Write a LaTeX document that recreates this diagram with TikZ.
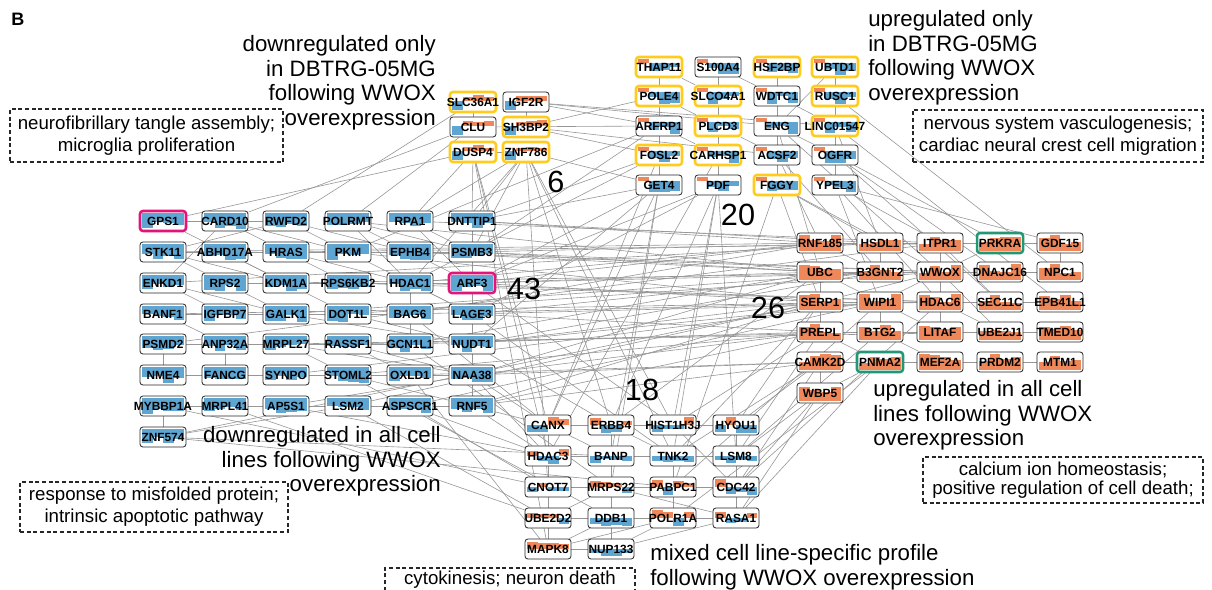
\documentclass[tikz,border=0pt]{standalone}
\usepackage{fontspec}
\setmainfont{Liberation Sans}
\pgfdeclarelayer{background}
\pgfsetlayers{background,main}
\definecolor{bblue}{RGB}{95,165,210}
\definecolor{borange}{RGB}{238,135,90}
\definecolor{gold}{RGB}{255,204,30}
\definecolor{mag}{RGB}{226,20,122}
\definecolor{grn}{RGB}{35,150,115}
\definecolor{edgec}{RGB}{150,150,150}
\tikzset{
 gbox/.style={draw=black!85, line width=0.6pt, rounded corners=2.2pt, minimum width=34.5pt, minimum height=15pt, inner sep=0pt},
 ylw/.style={draw=gold, line width=1.9pt},
 mgt/.style={draw=mag, line width=1.9pt},
 gre/.style={draw=grn, line width=1.9pt},
 glab/.style={font=\fontsize{8.9}{10}\selectfont\bfseries, inner sep=0pt},
 edge/.style={draw=edgec, line width=0.45pt},
 big/.style={font=\fontsize{16.7}{18.5}\selectfont, inner sep=0pt},
 num/.style={font=\fontsize{23}{26}\selectfont, inner sep=0pt},
 dbox/.style={draw=black!85, line width=0.8pt, dash pattern=on 3pt off 2pt},
 small/.style={font=\fontsize{14}{16.5}\selectfont, align=center, inner sep=0pt},
}
\def\gvalD{\pgfmathsetmacro\gv{-(0.5+0.5*rnd)}}
\def\gvalU{\pgfmathsetmacro\gv{0.4+0.6*rnd}}
\def\gvalM{\pgfmathsetmacro\gs{rnd<0.5 ? -1 : 1}\pgfmathsetmacro\gv{\gs*(0.4+0.6*rnd)}}
\def\gvalT{\ifnum\gi=0 \pgfmathsetmacro\gv{0.9}\else\pgfmathsetmacro\gv{-(0.3+0.7*rnd)}\fi}
\def\gvalS{\ifnum\gi=0 \pgfmathsetmacro\gv{-0.9}\else\pgfmathsetmacro\gv{0.3+0.5*rnd}\fi}
\def\gfrD{0.1}\def\gfrU{0.9}\def\gfrM{0.5}\def\gfrT{0.3}\def\gfrS{0.45}
\newcommand\gene[5]{%
  \fill[white, rounded corners=2.2pt] (#2-23,#3-10) rectangle (#2+23,#3+10);
  \begin{scope}
    \clip[rounded corners=2.2pt] (#2-23,#3-10) rectangle (#2+23,#3+10);
    \foreach \gi in {0,1,2,3}{%
      \csname gval#4\endcsname
      \pgfmathsetmacro\gxa{#2-21+\gi*10.5}%
      \pgfmathsetmacro\gxb{\gxa+10.5}%
      \pgfmathsetmacro\gyb{#3-10+\csname gfr#4\endcsname*20}%
      \pgfmathsetmacro\gup{\csname gfr#4\endcsname*20-1.5}%
      \pgfmathsetmacro\gdn{(1-\csname gfr#4\endcsname)*20-1.5}%
      \ifdim\gv pt>0pt
        \pgfmathsetmacro\gye{\gyb-(\gv)*\gup}%
        \fill[borange] (\gxa,\gyb) rectangle (\gxb,\gye);
      \else
        \pgfmathsetmacro\gye{\gyb-(\gv)*\gdn}%
        \fill[bblue] (\gxa,\gyb) rectangle (\gxb,\gye);
      \fi
    }
  \end{scope}
  \node[gbox,#5] (#1) at (#2,#3) {};
  \node[glab] (#1-t) at (#1) {#1};
}
\begin{document}
\begin{tikzpicture}[x=0.75pt,y=-0.75pt]
\pgfmathsetseed{7}
\useasboundingbox (0,0) rectangle (1212,589);
% ---- 43: downregulated in all
\gene{GPS1}{163}{221}{D}{mgt}\gene{CARD10}{225}{221}{D}{}\gene{RWFD2}{286}{221}{D}{}\gene{POLRMT}{348}{221}{D}{}\gene{RPA1}{410}{221}{D}{}\gene{DNTTIP1}{472}{221}{D}{}
\gene{STK11}{163}{252}{D}{}\gene{ABHD17A}{225}{252}{D}{}\gene{HRAS}{286}{252}{D}{}\gene{PKM}{348}{252}{D}{}\gene{EPHB4}{410}{252}{D}{}\gene{PSMB3}{472}{252}{D}{}
\gene{ENKD1}{163}{283}{D}{}\gene{RPS2}{225}{283}{D}{}\gene{KDM1A}{286}{283}{D}{}\gene{RPS6KB2}{348}{283}{D}{}\gene{HDAC1}{410}{283}{D}{}\gene{ARF3}{472}{283}{D}{mgt}
\gene{BANF1}{163}{314}{D}{}\gene{IGFBP7}{225}{314}{D}{}\gene{GALK1}{286}{314}{D}{}\gene{DOT1L}{348}{314}{D}{}\gene{BAG6}{410}{314}{D}{}\gene{LAGE3}{472}{314}{D}{}
\gene{PSMD2}{163}{344}{D}{}\gene{ANP32A}{225}{344}{D}{}\gene{MRPL27}{286}{344}{D}{}\gene{RASSF1}{348}{344}{D}{}\gene{GCN1L1}{410}{344}{D}{}\gene{NUDT1}{472}{344}{D}{}
\gene{NME4}{163}{375}{D}{}\gene{FANCG}{225}{375}{D}{}\gene{SYNPO}{286}{375}{D}{}\gene{STOML2}{348}{375}{D}{}\gene{OXLD1}{410}{375}{D}{}\gene{NAA38}{472}{375}{D}{}
\gene{MYBBP1A}{163}{406}{D}{}\gene{MRPL41}{225}{406}{D}{}\gene{AP5S1}{286}{406}{D}{}\gene{LSM2}{348}{406}{D}{}\gene{ASPSCR1}{410}{406}{D}{}\gene{RNF5}{472}{406}{D}{}
\gene{ZNF574}{163}{437}{D}{}
% ---- 26: upregulated in all
\gene{RNF185}{820}{243}{U}{}\gene{HSDL1}{880}{243}{U}{}\gene{ITPR1}{940}{243}{U}{}\gene{PRKRA}{1000}{243}{U}{gre}\gene{GDF15}{1060}{243}{U}{}
\gene{UBC}{820}{272}{U}{}\gene{B3GNT2}{880}{272}{U}{}\gene{WWOX}{940}{272}{U}{}\gene{DNAJC16}{1000}{272}{U}{}\gene{NPC1}{1060}{272}{U}{}
\gene{SERP1}{820}{302}{U}{}\gene{WIPI1}{880}{302}{U}{}\gene{HDAC6}{940}{302}{U}{}\gene{SEC11C}{1000}{302}{U}{}\gene{EPB41L1}{1060}{302}{U}{}
\gene{PREPL}{820}{332}{U}{}\gene{BTG2}{880}{332}{U}{}\gene{LITAF}{940}{332}{U}{}\gene{UBE2J1}{1000}{332}{U}{}\gene{TMED10}{1060}{332}{U}{}
\gene{CAMK2D}{820}{362}{U}{}\gene{PNMA2}{880}{362}{U}{gre}\gene{MEF2A}{940}{362}{U}{}\gene{PRDM2}{1000}{362}{U}{}\gene{MTM1}{1060}{362}{U}{}
\gene{WBP5}{820}{393}{U}{}
% ---- 20: upregulated only in DBTRG-05MG
\gene{THAP11}{659}{67}{T}{ylw}\gene{S100A4}{718}{67}{T}{}\gene{HSF2BP}{777}{67}{T}{ylw}\gene{UBTD1}{835}{67}{T}{ylw}
\gene{POLE4}{659}{96}{T}{ylw}\gene{SLCO4A1}{718}{96}{T}{ylw}\gene{WDTC1}{777}{96}{T}{}\gene{RUSC1}{835}{96}{T}{ylw}
\gene{ARFRP1}{659}{126}{T}{}\gene{PLCD3}{718}{126}{T}{ylw}\gene{ENG}{777}{126}{T}{}\gene{LINC01547}{835}{126}{T}{ylw}
\gene{FOSL2}{659}{155}{T}{ylw}\gene{CARHSP1}{718}{155}{T}{ylw}\gene{ACSF2}{777}{155}{T}{}\gene{OGFR}{835}{155}{T}{}
\gene{GET4}{659}{185}{T}{}\gene{PDF}{718}{185}{T}{}\gene{FGGY}{777}{185}{T}{ylw}\gene{YPEL3}{835}{185}{T}{}
% ---- 6: downregulated only in DBTRG-05MG
\gene{SLC36A1}{473}{102}{S}{ylw}\gene{IGF2R}{526}{102}{S}{}
\gene{CLU}{473}{127}{S}{}\gene{SH3BP2}{526}{127}{S}{ylw}
\gene{DUSP4}{473}{152}{S}{ylw}\gene{ZNF786}{526}{152}{S}{ylw}
% ---- 18: mixed
\gene{CANX}{548}{425}{M}{}\gene{ERBB4}{611}{425}{M}{}\gene{HIST1H3J}{673}{425}{M}{}\gene{HYOU1}{736}{425}{M}{}
\gene{HDAC3}{548}{456}{M}{}\gene{BANP}{611}{456}{M}{}\gene{TNK2}{673}{456}{M}{}\gene{LSM8}{736}{456}{M}{}
\gene{CNOT7}{548}{487}{M}{}\gene{MRPS22}{611}{487}{M}{}\gene{PABPC1}{673}{487}{M}{}\gene{CDC42}{736}{487}{M}{}
\gene{UBE2D2}{548}{518}{M}{}\gene{DDB1}{611}{518}{M}{}\gene{POLR1A}{673}{518}{M}{}\gene{RASA1}{736}{518}{M}{}
\gene{MAPK8}{548}{549}{M}{}\gene{NUP133}{611}{549}{M}{}
% ---- numbers
\node[num] (n6) at (556,182) {6};
\node[num] (n20) at (738,215) {20};
\node[num] (n43) at (524,289) {43};
\node[num] (n26) at (768,308) {26};
\node[num] (n18) at (642,390) {18};
% ---- texts
\node[font=\fontsize{13.5}{15}\selectfont\bfseries, inner sep=0pt, anchor=base west] (lblB) at (11,26) {B};
\node[big, anchor=north east, align=right] (ann1) at (436,35) {downregulated only\\in DBTRG-05MG\\following WWOX\\overexpression};
\node[big, anchor=north west, align=left] (ann2) at (868,10) {upregulated only\\in DBTRG-05MG\\following WWOX\\overexpression};
\node[big, anchor=north east, align=right] (ann3) at (441,426) {downregulated in all cell\\lines following WWOX\\overexpression};
\node[big, anchor=north west, align=left] (ann4) at (873,380) {upregulated in all cell\\lines following WWOX\\overexpression};
\node[big, anchor=north west, align=left] (ann5) at (650,544) {mixed cell line-specific profile\\following WWOX overexpression};
\node[dbox, small, minimum width=204.75pt, minimum height=39.75pt] (go1) at (146.5,135.5) {neurofibrillary tangle assembly;\\microglia proliferation};
\node[dbox, small, minimum width=217.5pt, minimum height=39pt] (go2) at (1058,136) {nervous system vasculogenesis;\\cardiac neural crest cell migration};
\node[dbox, small, minimum width=201pt, minimum height=37.5pt] (go3) at (154,507) {response to misfolded protein;\\intrinsic apoptotic pathway};
\node[dbox, small, font=\fontsize{14}{14.5}\selectfont, minimum width=210pt, minimum height=34.5pt] (go4) at (1063,480) {calcium ion homeostasis;\\positive regulation of cell death;};
\draw[dbox] (385,604) |- (635,568) -- (635,604);
\node[small] (go5) at (510,580) {cytokinesis; neuron death};
% ---- edges
\begin{pgfonlayer}{background}
\foreach \a/\b in {GPS1/RWFD2, CARD10/HRAS, RWFD2/PKM, POLRMT/HDAC1, RPA1/PSMB3, DNTTIP1/PSMB3, STK11/KDM1A, ABHD17A/HRAS, HRAS/EPHB4, PKM/PSMB3, EPHB4/ARF3, RPS2/KDM1A, KDM1A/HDAC1, RPS6KB2/ARF3, HDAC1/LAGE3, BANF1/GALK1, IGFBP7/DOT1L, GALK1/BAG6, DOT1L/NUDT1, PSMD2/MRPL27, ANP32A/RASSF1, MRPL27/GCN1L1, RASSF1/NAA38, NME4/SYNPO, FANCG/STOML2, SYNPO/OXLD1, STOML2/NAA38, MYBBP1A/ASPSCR1, MRPL41/LSM2, AP5S1/RNF5, ZNF574/MYBBP1A, ZNF574/LSM2, HRAS/RPS6KB2, STK11/PKM, ENKD1/IGFBP7, PSMD2/NME4, KDM1A/DOT1L, RPS2/GALK1, CARD10/ENKD1, HDAC1/GCN1L1, PSMB3/NUDT1, LAGE3/RNF5, MRPL27/STOML2, ANP32A/FANCG, RASSF1/OXLD1, POLRMT/EPHB4, RWFD2/STK11, BANF1/ANP32A, MYBBP1A/MRPL41,
GPS1/KDM1A, CARD10/PKM, STK11/RPS2, ABHD17A/KDM1A, ENKD1/GALK1, BANF1/DOT1L, IGFBP7/BAG6, PSMD2/RASSF1, ANP32A/GCN1L1, NME4/STOML2, FANCG/OXLD1, SYNPO/NAA38, MYBBP1A/LSM2, MRPL41/ASPSCR1, AP5S1/NAA38, RPA1/ARF3, RWFD2/EPHB4, POLRMT/PSMB3, HRAS/HDAC1, PKM/LAGE3, GALK1/NUDT1, MRPL27/NAA38, STOML2/RNF5,
DNTTIP1/RNF185, PSMB3/UBC, PSMB3/HSDL1, ARF3/WWOX, ARF3/SERP1, LAGE3/B3GNT2, NUDT1/WIPI1, NAA38/PREPL, RNF5/CAMK2D, HDAC1/HDAC6, GCN1L1/UBC, BAG6/RNF185, RPA1/ITPR1, EPHB4/WWOX, PKM/SERP1, RPS6KB2/HDAC6, DOT1L/WWOX, RASSF1/BTG2, OXLD1/CAMK2D, STOML2/PREPL, ASPSCR1/WIPI1, LSM2/SERP1, POLRMT/UBC, KDM1A/WWOX, GALK1/B3GNT2, ENKD1/HSDL1, HRAS/PRKRA, BANF1/WIPI1, MRPL27/UBE2J1, PSMD2/ITPR1, STK11/RNF185, NAA38/UBC, LAGE3/HDAC6, NUDT1/B3GNT2, RNF5/SERP1, ARF3/RNF185, BAG6/WIPI1, GCN1L1/PREPL, DNTTIP1/HSDL1, PSMB3/WWOX, ARF3/UBC, LAGE3/PREPL, NUDT1/SERP1, NAA38/CAMK2D, RNF5/PREPL, HDAC1/RNF185, EPHB4/UBC, SYNPO/WIPI1, ZNF574/SERP1,
RNF5/CANX, NAA38/HDAC3, ASPSCR1/CNOT7, LSM2/UBE2D2, ZNF574/BANP, AP5S1/HDAC3, NUDT1/ERBB4, OXLD1/MAPK8, MYBBP1A/CNOT7, LAGE3/TNK2, GCN1L1/MRPS22, ARF3/HIST1H3J, BAG6/CANX, STOML2/DDB1, MRPL41/UBE2D2, ZNF574/PABPC1, RNF5/HDAC3, NAA38/CANX, ASPSCR1/HDAC3,
DNTTIP1/DUSP4, DNTTIP1/ZNF786, PSMB3/ZNF786, RPA1/DUSP4, POLRMT/CLU, ARF3/GET4, LAGE3/PDF, DNTTIP1/FOSL2, PSMB3/ARFRP1, RWFD2/SLC36A1, GPS1/DUSP4, CARD10/CLU, HDAC1/ZNF786, NUDT1/GET4, PKM/ARFRP1, HDAC1/FOSL2, RPA1/ZNF786, DNTTIP1/GET4, ARF3/PDF,
IGF2R/ARFRP1, IGF2R/ENG, SH3BP2/POLE4, SH3BP2/FOSL2, ZNF786/ERBB4, DUSP4/MAPK8, ZNF786/CNOT7, SLC36A1/CLU, IGF2R/SH3BP2, DUSP4/ZNF786, ZNF786/GET4, CLU/ARFRP1, DUSP4/CANX, ZNF786/HIST1H3J, IGF2R/LINC01547, SH3BP2/ACSF2, ZNF786/TNK2, DUSP4/HDAC3,
THAP11/POLE4, S100A4/WDTC1, HSF2BP/WDTC1, UBTD1/RUSC1, POLE4/ARFRP1, SLCO4A1/PLCD3, WDTC1/ENG, RUSC1/LINC01547, ARFRP1/FOSL2, PLCD3/CARHSP1, ENG/ACSF2, LINC01547/OGFR, FOSL2/GET4, CARHSP1/PDF, ACSF2/FGGY, OGFR/YPEL3, S100A4/PLCD3, HSF2BP/ENG, WDTC1/LINC01547, ENG/OGFR, RUSC1/YPEL3, THAP11/SLCO4A1, POLE4/PLCD3, ARFRP1/CARHSP1, PLCD3/ACSF2, UBTD1/ENG,
GET4/CANX, PDF/HIST1H3J, FGGY/HSDL1, FGGY/WWOX, YPEL3/ITPR1, OGFR/PRKRA, ACSF2/RNF185, ENG/UBC, PDF/TNK2, YPEL3/GDF15, OGFR/DNAJC16, GET4/MRPS22, PDF/ERBB4, FGGY/PABPC1, ACSF2/B3GNT2, RUSC1/NPC1, LINC01547/EPB41L1, CARHSP1/HDAC3, FOSL2/CANX, YPEL3/HDAC6, ENG/WWOX, OGFR/SEC11C, LINC01547/HSDL1, FGGY/SERP1, GET4/BANP, PDF/LSM8, YPEL3/WIPI1,
RNF185/HSDL1, HSDL1/ITPR1, ITPR1/PRKRA, PRKRA/GDF15, UBC/B3GNT2, B3GNT2/WWOX, WWOX/DNAJC16, DNAJC16/NPC1, SERP1/WIPI1, WIPI1/HDAC6, HDAC6/SEC11C, SEC11C/EPB41L1, PREPL/BTG2, BTG2/LITAF, LITAF/UBE2J1, UBE2J1/TMED10, CAMK2D/PNMA2, PNMA2/MEF2A, MEF2A/PRDM2, PRDM2/MTM1, WWOX/HDAC6, WWOX/ITPR1, WWOX/PRKRA, WWOX/LITAF, WWOX/WIPI1, UBC/SERP1, HSDL1/B3GNT2, WIPI1/BTG2, HDAC6/LITAF, CAMK2D/WBP5, PNMA2/WBP5, BTG2/MEF2A, ITPR1/SEC11C, SERP1/PREPL, GDF15/NPC1, WWOX/SERP1, WWOX/UBE2J1, ITPR1/GDF15, RNF185/B3GNT2, UBC/WIPI1, WIPI1/LITAF, HDAC6/UBE2J1, PREPL/PNMA2,
CAMK2D/HYOU1, PREPL/LSM8, WBP5/CDC42, SERP1/HYOU1, PNMA2/RASA1, BTG2/LSM8, CAMK2D/TNK2, WBP5/RASA1, PREPL/HIST1H3J, UBC/ERBB4, WIPI1/PABPC1, HDAC6/CDC42, PNMA2/POLR1A, CAMK2D/CDC42, SERP1/TNK2, WBP5/LSM8,
CANX/ERBB4, ERBB4/HIST1H3J, HIST1H3J/HYOU1, HDAC3/BANP, BANP/TNK2, TNK2/LSM8, CNOT7/MRPS22, MRPS22/PABPC1, PABPC1/CDC42, UBE2D2/DDB1, DDB1/POLR1A, POLR1A/RASA1, MAPK8/NUP133, CANX/HDAC3, HDAC3/CNOT7, CNOT7/UBE2D2, UBE2D2/MAPK8, ERBB4/BANP, BANP/MRPS22, MRPS22/DDB1, DDB1/NUP133, TNK2/PABPC1, PABPC1/POLR1A, HYOU1/LSM8, LSM8/CDC42, CDC42/RASA1, MAPK8/DDB1, NUP133/POLR1A, MAPK8/POLR1A, HIST1H3J/CDC42, CANX/BANP, ERBB4/TNK2, UBE2D2/MRPS22, MAPK8/CNOT7, RASA1/MRPS22, NUP133/RASA1}
  \draw[edge] (\a) -- (\b);
\end{pgfonlayer}
\end{tikzpicture}
\end{document}
